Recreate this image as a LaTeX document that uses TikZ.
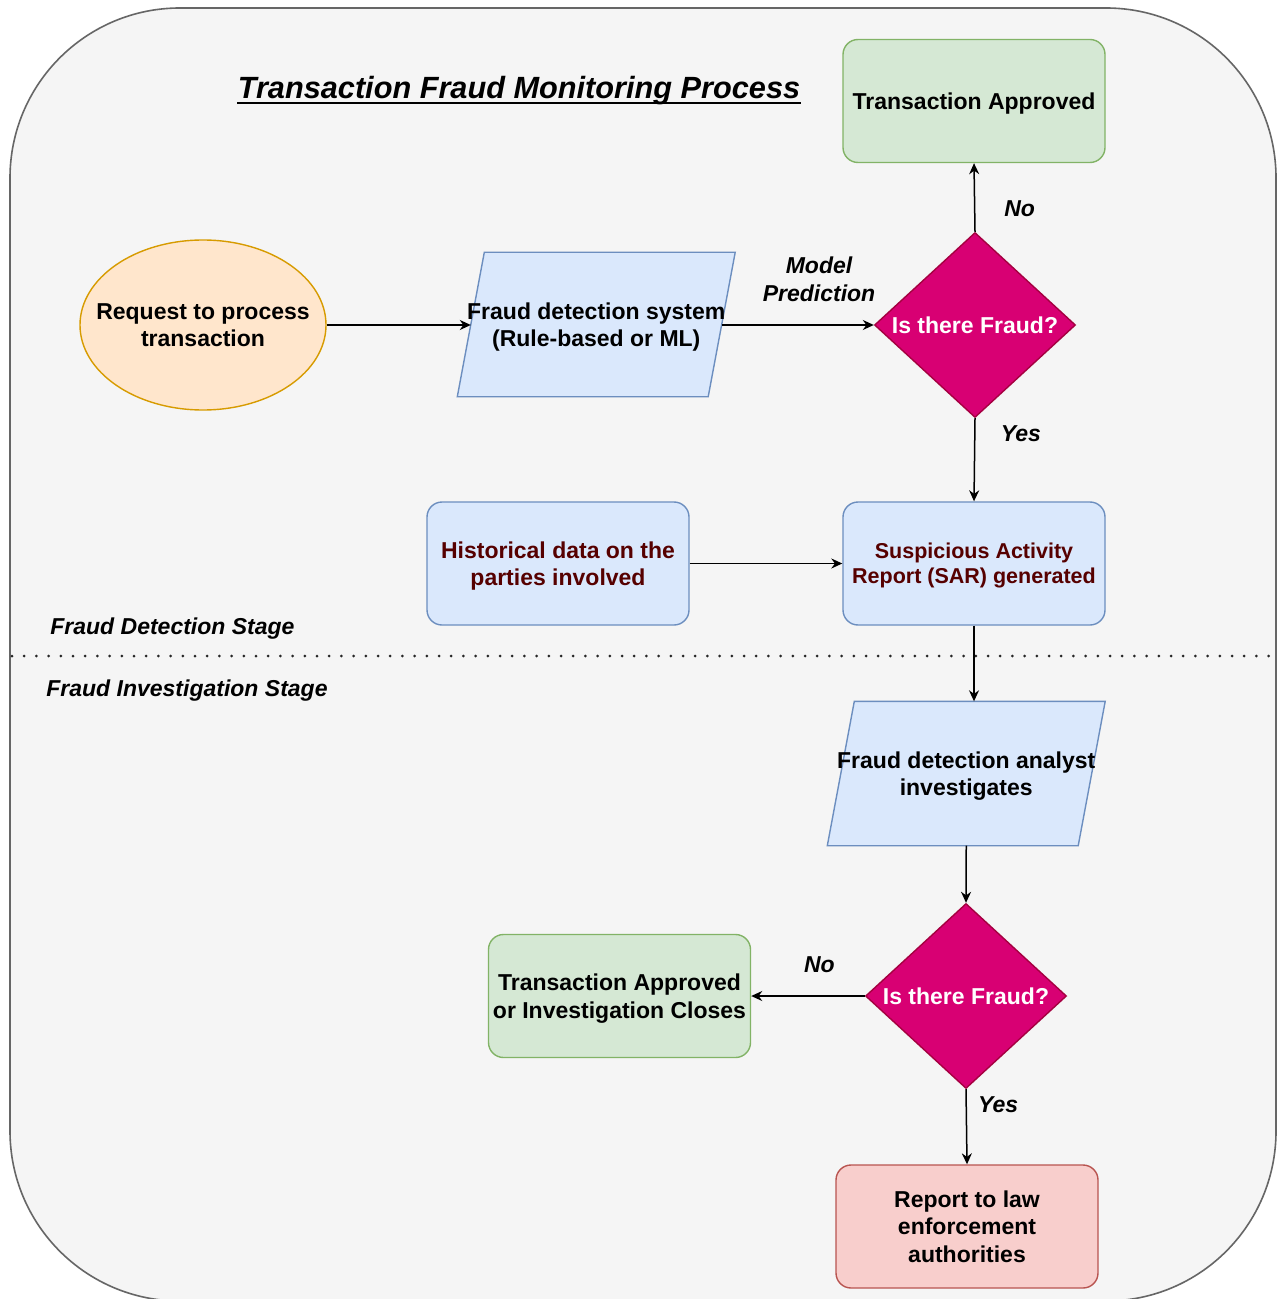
\documentclass[tikz,border=0pt]{standalone}
\usepackage{fontspec}
\setmainfont{Liberation Sans}
\usetikzlibrary{shapes.geometric,arrows.meta}

\definecolor{panelfill}{HTML}{F5F5F5}
\definecolor{panelline}{HTML}{666666}
\definecolor{greenfill}{HTML}{D5E8D4}
\definecolor{greenline}{HTML}{82B366}
\definecolor{bluefill}{HTML}{DAE8FC}
\definecolor{blueline}{HTML}{6C8EBF}
\definecolor{orangefill}{HTML}{FFE6CC}
\definecolor{orangeline}{HTML}{D79B00}
\definecolor{redfill}{HTML}{F8CECC}
\definecolor{redline}{HTML}{B85450}
\definecolor{decfill}{HTML}{D80073}
\definecolor{decline}{HTML}{A50040}
\definecolor{darkmaroon}{HTML}{560000}

\pgfdeclarelayer{panel}
\pgfdeclarelayer{frames}
\pgfsetlayers{panel,frames,main}

\tikzset{
  base/.style={font=\fontsize{11.5}{13.8}\selectfont\bfseries, align=center,
    line width=0.7pt, inner sep=0pt, text depth=0pt},
  roundbox/.style={base, rectangle, rounded corners=7.5pt,
    minimum width=131pt, minimum height=61.5pt, draw},
  okbox/.style={roundbox, fill=greenfill, draw=greenline},
  infobox/.style={roundbox, fill=bluefill, draw=blueline, text=darkmaroon},
  alertbox/.style={roundbox, fill=redfill, draw=redline},
  % text holder of a slanted input/output box; the slanted frame is drawn
  % by \ioframe, its sides pass through the holder's west and east anchors
  iobox/.style={base, rectangle, inner xsep=-8pt, minimum width=124.75pt,
    minimum height=71.5pt},
  ioframe/.style={fill=bluefill, draw=blueline, line width=0.7pt},
  decision/.style={base, diamond, minimum width=100.5pt, minimum height=92.5pt,
    fill=decfill, draw=decline, text=white},
  startnode/.style={base, ellipse, inner xsep=-10pt, minimum width=123pt,
    minimum height=85pt, fill=orangefill, draw=orangeline},
  flow/.style={-{Stealth[length=5.5pt,width=5pt]}, line width=0.75pt, draw=black},
  edgelabel/.style={font=\fontsize{11.5}{14}\selectfont\bfseries\itshape,
    align=center, inner sep=0pt},
  stagelabel/.style={edgelabel, anchor=west, text depth=0pt}
}

% slanted frame round an iobox node: bottom edge moved left, top edge moved right
\newcommand\ioframe[1]{%
  \begin{pgfonlayer}{frames}
    \draw[ioframe] ([xshift=-6.75pt]#1.south west) -- ([xshift=-6.75pt]#1.south east)
      -- ([xshift=6.75pt]#1.north east) -- ([xshift=6.75pt]#1.north west) -- cycle;
  \end{pgfonlayer}}

\begin{document}
\begin{tikzpicture}[x=0.5pt, y=-0.5pt]
  \useasboundingbox (0,0) rectangle (1280,1299);

  % background panel, its lower edge runs off the page
  \begin{pgfonlayer}{panel}
    \begin{scope}
      \clip (0,0) rectangle (1280,1299);
      \fill[white] (0,0) rectangle (1280,1299);
      \draw[panelline, fill=panelfill, line width=0.8pt, rounded corners=85pt]
        (10,8) rectangle (1276,1301);
    \end{scope}
  \end{pgfonlayer}

  % title
  \node[font=\fontsize{15.35}{18}\selectfont\bfseries\itshape, inner sep=0pt]
    (title) at (519,91) {Transaction Fraud Monitoring Process};
  \draw[line width=1pt] ([yshift=-2.2pt]title.base west) -- ([yshift=-2.2pt]title.base east);

  % stage separator
  \draw[black!85, line width=1.5pt, line cap=round, dash pattern=on 0pt off 6.1pt]
    (12,656) -- (1275,656);
  \node[stagelabel] (stage1) at (50,626) {Fraud Detection Stage};
  \node[stagelabel] (stage2) at (46,688) {Fraud Investigation Stage};

  % detection stage
  \node[startnode] (req) at (203,325) {Request to process\\transaction};
  \node[iobox] (fds) at (596.25,324.5) {Fraud detection system\\(Rule-based or ML)};
  \ioframe{fds}
  \node[decision] (dec1) at (975,325) {Is there Fraud?};
  \node[okbox] (ok1) at (974,101) {Transaction Approved};
  \node[infobox, font=\fontsize{10.75}{12.6}\selectfont\bfseries] (sar) at (974,563.5)
    {Suspicious Activity\\Report (SAR) generated};
  \node[infobox] (hist) at (558,563.5) {Historical data on the\\parties involved};

  % investigation stage
  \node[iobox] (fda) at (966.25,773.5) {Fraud detection analyst\\investigates};
  \ioframe{fda}
  \node[decision] (dec2) at (966,996) {Is there Fraud?};
  \node[okbox] (ok2) at (619.5,996) {Transaction Approved\\or Investigation Closes};
  \node[alertbox] (law) at (967,1226.5) {Report to law\\enforcement\\authorities};

  % connectors
  \draw[flow] (req) -- (req -| fds.west);
  \draw[flow] (fds.east |- dec1) -- node[edgelabel, pos=0.64, yshift=23pt] {Model\\Prediction} (dec1);
  \draw[flow] (dec1.north) -- node[edgelabel, pos=0.33, xshift=22.5pt] {No} (ok1.south);
  \draw[flow] (dec1.south) -- node[edgelabel, pos=0.19, xshift=23pt] {Yes} (sar.north);
  \draw[flow] (hist) -- (sar);
  \draw[flow] (sar.south) -- (sar.south |- fda.north);
  \draw[flow] (fda.south) -- (dec2.north);
  \draw[flow] (dec2.west) -- node[edgelabel, pos=0.4, yshift=15.5pt] {No} (ok2.east);
  \draw[flow] (dec2.south) -- node[edgelabel, pos=0.21, xshift=16pt] {Yes} (law.north);
\end{tikzpicture}
\end{document}
